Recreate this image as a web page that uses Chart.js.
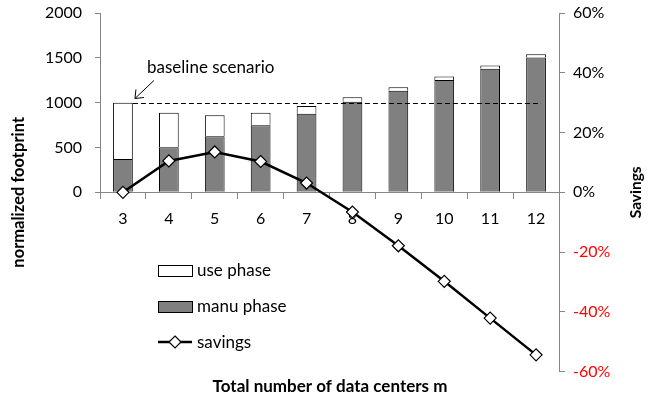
<!DOCTYPE html>
<html>
<head>
<meta charset="utf-8">
<script src="https://cdn.jsdelivr.net/npm/chart.js@4.4.1/dist/chart.umd.min.js"></script>
<style>
  html, body { margin: 0; padding: 0; background: #fff; }
  #wrap { width: 660px; height: 400px; }
</style>
</head>
<body>
<div id="wrap"><canvas id="chart"></canvas></div>
<script>
// data
const categories = ['3', '4', '5', '6', '7', '8', '9', '10', '11', '12'];
const manuPhase = [372, 503, 626, 749, 875, 1009, 1132, 1254, 1377, 1505];
const usePhase = [628, 383, 234, 137, 89, 52, 41, 38, 38, 36];
const savings = [0, 10.5, 13.5, 10.3, 3.1, -6.6, -17.9, -29.8, -42.1, -54.4];
const footprintTicks = [0, 500, 1000, 1500, 2000];
const savingsTicks = [-60, -40, -20, 0, 20, 40, 60];
const baseline = 1000;

const FONT = 'Lato';
const axisGray = '#868686';
const manuGray = '#808080';

// keep the plot area where the original had it
function fixWidth(w) {
    return s => {
        s.width = w;
        s.paddingTop = 0;
        s.paddingBottom = 0;
    };
}

const extras = {
    id: 'extras',
    afterDatasetsDraw(chart) {
        const ctx = chart.ctx;
        const x = chart.scales.x;
        const y = chart.scales.y;
        const y2 = chart.scales.y2;
        ctx.save();

        // left axis line, only the positive half
        ctx.strokeStyle = axisGray;
        ctx.lineWidth = 1;
        ctx.beginPath();
        ctx.moveTo(x.left + 0.5, y.getPixelForValue(0));
        ctx.lineTo(x.left + 0.5, y.getPixelForValue(2000));
        ctx.stroke();

        // dashed baseline
        const by = Math.round(y.getPixelForValue(baseline)) + 0.5;
        ctx.strokeStyle = '#000';
        ctx.setLineDash([5, 3]);
        ctx.beginPath();
        ctx.moveTo(x.getPixelForValue(0) + 10, by);
        ctx.lineTo(x.getPixelForValue(categories.length - 1) + 5, by);
        ctx.stroke();
        ctx.setLineDash([]);

        // annotation
        ctx.fillStyle = '#000';
        ctx.font = '17px ' + FONT;
        ctx.textBaseline = 'middle';
        ctx.textAlign = 'left';
        ctx.fillText('baseline scenario', 147, 68);
        const tx = x.getPixelForValue(0) + 12, ty = by - 5;
        ctx.lineWidth = 1;
        ctx.beginPath();
        ctx.moveTo(tx + 19, ty - 18);
        ctx.lineTo(tx, ty);
        ctx.moveTo(tx + 9, ty - 1);
        ctx.lineTo(tx, ty);
        ctx.lineTo(tx + 1, ty - 9);
        ctx.stroke();

        // legend
        const lx = 158, lw = 34;
        ctx.lineWidth = 1;
        ctx.strokeStyle = '#000';
        ctx.fillStyle = '#fff';
        ctx.fillRect(lx, 265, lw, 11);
        ctx.strokeRect(lx + 0.5, 265.5, lw, 11);
        ctx.fillStyle = manuGray;
        ctx.fillRect(lx, 301, lw, 11);
        ctx.strokeRect(lx + 0.5, 301.5, lw, 11);
        ctx.lineWidth = 2.5;
        ctx.beginPath();
        ctx.moveTo(lx, 342);
        ctx.lineTo(lx + lw, 342);
        ctx.stroke();
        ctx.lineWidth = 1.2;
        ctx.fillStyle = '#fff';
        ctx.beginPath();
        ctx.moveTo(lx + 17, 336);
        ctx.lineTo(lx + 23, 342);
        ctx.lineTo(lx + 17, 348);
        ctx.lineTo(lx + 11, 342);
        ctx.closePath();
        ctx.fill();
        ctx.stroke();
        ctx.fillStyle = '#000';
        ctx.font = '17px ' + FONT;
        ctx.fillText('use phase', 197, 271);
        ctx.fillText('manu phase', 197, 307);
        ctx.fillText('savings', 197, 343);

        // axis titles
        ctx.font = 'bold 16.5px ' + FONT;
        ctx.textAlign = 'center';
        ctx.save();
        ctx.translate(19, y.getPixelForValue(0));
        ctx.rotate(-Math.PI / 2);
        ctx.fillText('normalized footprint', 0, 0);
        ctx.restore();
        ctx.font = 'bold 15.5px ' + FONT;
        ctx.save();
        ctx.translate(636, y2.getPixelForValue(0));
        ctx.rotate(-Math.PI / 2);
        ctx.fillText('Savings', 0, 0);
        ctx.restore();

        ctx.restore();
    }
};

new Chart(document.getElementById('chart'), {
    type: 'bar',
    data: {
        labels: categories,
        datasets: [{
            type: 'line',
            label: 'savings',
            data: savings,
            yAxisID: 'y2',
            order: 0,
            borderColor: '#000',
            borderWidth: 2.5,
            tension: 0,
            pointStyle: 'rectRot',
            pointRadius: 6,
            pointBackgroundColor: '#fff',
            pointBorderColor: '#000',
            pointBorderWidth: 1.2
        }, {
            label: 'manu phase',
            data: manuPhase,
            yAxisID: 'y',
            order: 1,
            backgroundColor: manuGray,
            borderColor: '#000',
            borderWidth: 1
        }, {
            label: 'use phase',
            data: usePhase,
            yAxisID: 'y',
            order: 1,
            backgroundColor: '#fff',
            borderColor: '#000',
            borderWidth: 1
        }]
    },
    options: {
        responsive: true,
        maintainAspectRatio: false,
        animation: false,
        layout: { padding: { top: 13, left: 0, right: 0, bottom: 0 } },
        datasets: {
            bar: { barPercentage: 0.43, categoryPercentage: 1 }
        },
        plugins: {
            legend: { display: false },
            tooltip: { enabled: false },
            title: {
                display: true,
                position: 'bottom',
                text: 'Total number of data centers m',
                color: '#000',
                font: { family: FONT, size: 17, weight: 'bold' },
                padding: { top: 5, bottom: 3 }
            }
        },
        scales: {
            x: {
                stacked: true,
                position: { y: 0 },
                grid: { drawOnChartArea: false, drawTicks: true, tickLength: 6, color: axisGray },
                border: { color: axisGray },
                ticks: { color: '#000', padding: 11, font: { family: FONT, size: 16 } }
            },
            y: {
                stacked: true,
                position: 'left',
                min: -2000,
                max: 2000,
                afterBuildTicks: s => { s.ticks = footprintTicks.map(v => ({ value: v })); },
                afterFit: fixWidth(100),
                grid: { drawOnChartArea: false, drawTicks: true, tickLength: 5, color: axisGray },
                border: { display: false },
                ticks: {
                    color: '#000',
                    padding: 13,
                    autoSkip: false,
                    font: { family: FONT, size: 16 },
                    callback: v => String(v)
                }
            },
            y2: {
                position: 'right',
                min: -60,
                max: 60,
                afterBuildTicks: s => { s.ticks = savingsTicks.map(v => ({ value: v })); },
                afterFit: fixWidth(101),
                grid: { drawOnChartArea: false, drawTicks: true, tickLength: 6, color: axisGray },
                border: { color: axisGray },
                ticks: {
                    autoSkip: false,
                    padding: 8,
                    font: { family: FONT, size: 16 },
                    color: c => (c.tick && c.tick.value < 0 ? '#ff0000' : '#000'),
                    callback: v => v + '%'
                }
            }
        }
    },
    plugins: [extras]
});
</script>
</body>
</html>
